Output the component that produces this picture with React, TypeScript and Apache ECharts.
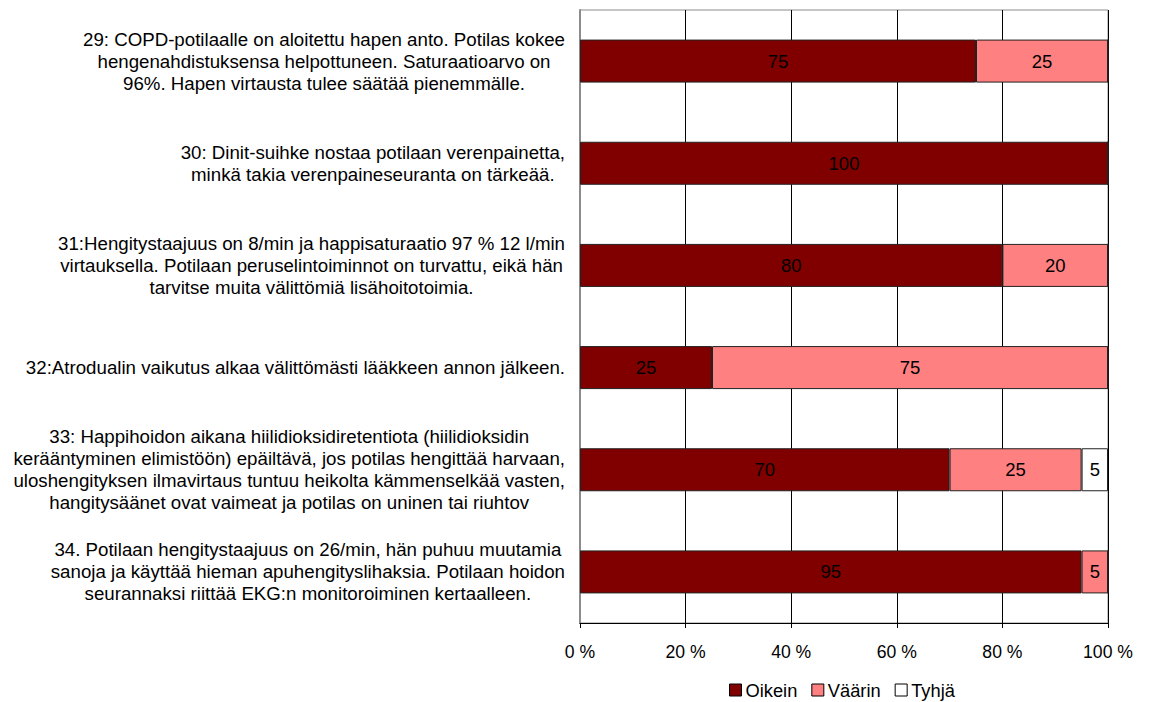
import React, { useEffect, useRef } from "react";
import * as echarts from "echarts";

const categories = [
  "29: COPD-potilaalle on aloitettu hapen anto. Potilas kokee\nhengenahdistuksensa helpottuneen. Saturaatioarvo on\n96%. Hapen virtausta tulee säätää pienemmälle.",
  "30: Dinit-suihke nostaa potilaan verenpainetta,\nminkä takia verenpaineseuranta on tärkeää.",
  "31:Hengitystaajuus on 8/min ja happisaturaatio 97 % 12 l/min\nvirtauksella. Potilaan peruselintoiminnot on turvattu, eikä hän\ntarvitse muita välittömiä lisähoitotoimia.",
  "32:Atrodualin vaikutus alkaa välittömästi lääkkeen annon jälkeen.",
  "33: Happihoidon aikana hiilidioksidiretentiota (hiilidioksidin\nkerääntyminen elimistöön) epäiltävä, jos potilas hengittää harvaan,\nuloshengityksen ilmavirtaus tuntuu heikolta kämmenselkää vasten,\nhangitysäänet ovat vaimeat ja potilas on uninen tai riuhtov",
  "34. Potilaan hengitystaajuus on 26/min, hän puhuu muutamia\nsanoja ja käyttää hieman apuhengityslihaksia. Potilaan hoidon\nseurannaksi riittää EKG:n monitoroiminen kertaalleen.",
];

const seriesNames = ["Oikein", "Väärin", "Tyhjä"];
const oikein = [75, 100, 80, 25, 70, 95];
const vaarin = [25, 0, 20, 75, 25, 5];
const tyhja = [0, 0, 0, 0, 5, 0];
const xTicks = [0, 20, 40, 60, 80, 100];

const FONT = "'Liberation Sans', Arial, sans-serif";

export default function App() {
  const ref = useRef<HTMLDivElement>(null);
  useEffect(() => {
    if (!ref.current) return;
    const chart = echarts.init(ref.current, null, { renderer: "svg" });
    const colors = ["#800000", "#FF8080", "#FFFFFF"];
    const datas = [oikein, vaarin, tyhja];
    chart.setOption({
      animation: false,
      textStyle: { fontFamily: FONT, color: "#000" },
      grid: {
        left: 580,
        right: 42,
        top: 10,
        bottom: 79,
        show: true,
        borderColor: "#8c8c8c",
        borderWidth: 1,
        containLabel: false,
      },
      legend: {
        top: 681,
        left: 729,
        data: seriesNames,
        icon: "rect",
        itemWidth: 12,
        itemHeight: 12,
        itemGap: 14,
        padding: 0,
        textStyle: { fontFamily: FONT, fontSize: 18.3, color: "#000", padding: [0, 0, 0, -1] },
        itemStyle: { borderColor: "#000", borderWidth: 1 },
      },
      xAxis: {
        type: "value",
        min: 0,
        max: 100,
        interval: 20,
        axisLine: { show: true, lineStyle: { color: "#000", width: 1 } },
        axisTick: { show: true, length: 5, lineStyle: { color: "#000" } },
        splitLine: { show: true, lineStyle: { color: "#000", width: 1 } },
        axisLabel: {
          fontFamily: FONT,
          fontSize: 17.6,
          color: "#000",
          margin: 20,
          formatter: (v: number) => (xTicks.includes(v) ? `${v} %` : ""),
        },
      },
      yAxis: {
        type: "category",
        inverse: true,
        data: categories,
        axisLine: { show: true, lineStyle: { color: "#8c8c8c", width: 2 } },
        axisTick: { show: false },
        axisLabel: {
          align: "right",
          margin: 15,
          fontFamily: FONT,
          fontSize: 18.7,
          color: "#000",
          lineHeight: 22,
          formatter: (v: string) =>
            v
              .split("\n")
              .map((l) => `{c|${l}}`)
              .join("\n"),
          rich: {
            c: {
              align: "center",
              fontFamily: FONT,
              fontSize: 18.7,
              lineHeight: 22,
              color: "#000",
            },
          },
        },
      },
      series: seriesNames.map((name, i) => ({
        name,
        type: "bar",
        stack: "total",
        barWidth: 43,
        data: datas[i],
        itemStyle: { color: colors[i], borderColor: "#222", borderWidth: 1 },
        label: {
          show: true,
          position: "inside",
          fontFamily: FONT,
          fontSize: 18.5,
          color: "#000",
          formatter: (p: any) => (p.value > 0 ? String(p.value) : ""),
        },
      })),
    });
    return () => chart.dispose();
  }, []);
  return (
    <div
      ref={ref}
      style={{ position: "fixed", left: 0, top: 0, width: 1150, height: 702, background: "#fff" }}
    />
  );
}
